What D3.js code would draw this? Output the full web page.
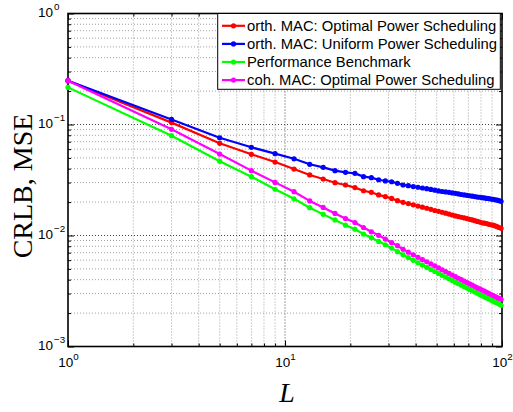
<!DOCTYPE html>
<html>
<head>
<meta charset="utf-8">
<script src="https://cdn.jsdelivr.net/npm/d3@7"></script>
<style>
  html, body { margin: 0; padding: 0; background: #fff; }
  svg { display: block; }
</style>
</head>
<body>
<svg id="chart" width="513" height="412"></svg>
<script>
// Number of sensors L (odd values only)
const L = [1, 3, 5, 7, 9, 11, 13, 15, 17, 19, 21, 23, 25, 27, 29, 31, 33, 35, 37, 39,
           41, 43, 45, 47, 49, 51, 53, 55, 57, 59, 61, 63, 65, 67, 69, 71, 73, 75, 77, 79,
           81, 83, 85, 87, 89, 91, 93, 95, 97, 99];

// orth. MAC, optimal power scheduling
const orthOptimal = [0.248, 0.104, 0.0677, 0.0539, 0.0459, 0.0397, 0.0351, 0.0323, 0.0299, 0.0285,
  0.0270, 0.0253, 0.0245, 0.0232, 0.0224, 0.0216, 0.0206, 0.0199, 0.0194, 0.0189,
  0.0184, 0.0180, 0.0176, 0.0172, 0.0168, 0.0165, 0.0162, 0.0159, 0.0156, 0.0153,
  0.0150, 0.0148, 0.0146, 0.0144, 0.0142, 0.0140, 0.0138, 0.0136, 0.0134, 0.0132,
  0.0130, 0.0129, 0.0128, 0.0126, 0.0125, 0.0124, 0.0122, 0.0120, 0.0118, 0.0116];

// orth. MAC, uniform power scheduling
const orthUniform = [0.248, 0.111, 0.0760, 0.0623, 0.0546, 0.0491, 0.0438, 0.0411, 0.0384, 0.0371,
  0.0363, 0.0339, 0.0332, 0.0318, 0.0310, 0.0305, 0.0295, 0.0285, 0.0281, 0.0276,
  0.0272, 0.0268, 0.0264, 0.0260, 0.0256, 0.0252, 0.0249, 0.0247, 0.0245, 0.0242,
  0.0240, 0.0237, 0.0234, 0.0232, 0.0230, 0.0228, 0.0226, 0.0224, 0.0222, 0.0221,
  0.0219, 0.0218, 0.0216, 0.0215, 0.0213, 0.0212, 0.0210, 0.0208, 0.0206, 0.0203];

// performance benchmark
const benchmark = [0.216, 0.0793, 0.0466, 0.0339, 0.0261, 0.0214, 0.0178, 0.0155, 0.0138, 0.0124,
  0.0114, 0.0103, 0.00955, 0.00885, 0.00825, 0.00770, 0.00715, 0.00670, 0.00632, 0.00598,
  0.00568, 0.00541, 0.00517, 0.00494, 0.00474, 0.00455, 0.00438, 0.00422, 0.00407, 0.00393,
  0.00380, 0.00368, 0.00357, 0.00346, 0.00336, 0.00327, 0.00318, 0.00310, 0.00302, 0.00294,
  0.00287, 0.00280, 0.00274, 0.00268, 0.00262, 0.00256, 0.00251, 0.00246, 0.00241, 0.00235];

// coh. MAC, optimal power scheduling
const cohOptimal = [0.248, 0.0905, 0.0542, 0.0384, 0.0301, 0.0248, 0.0205, 0.0179, 0.0158, 0.0142,
  0.0131, 0.0118, 0.0108, 0.01004, 0.00929, 0.00861, 0.00809, 0.00750, 0.00708, 0.00670,
  0.00636, 0.00606, 0.00580, 0.00555, 0.00532, 0.00510, 0.00491, 0.00473, 0.00456, 0.00440,
  0.00426, 0.00412, 0.00400, 0.00388, 0.00377, 0.00366, 0.00357, 0.00347, 0.00338, 0.00330,
  0.00323, 0.00315, 0.00308, 0.00301, 0.00294, 0.00288, 0.00282, 0.00276, 0.00271, 0.00266];

const seriesNames = [
  "orth. MAC: Optimal Power Scheduling",
  "orth. MAC: Uniform Power Scheduling",
  "Performance Benchmark",
  "coh. MAC: Optimal Power Scheduling"
];
const seriesValues = [orthOptimal, orthUniform, benchmark, cohOptimal];
const seriesColors = ["#ff0000", "#0000ff", "#00ff00", "#ff00ff"];

const xMajor = [1, 10, 100];
const xMajorExp = ["0", "1", "2"];
const yMajor = [1e-3, 1e-2, 1e-1, 1];
const yMajorExp = ["\u22123", "\u22122", "\u22121", "0"];

// ---- layout ----
const pLeft = 68, pRight = 502, pTop = 13.5, pBottom = 346.5;
const svg = d3.select("#chart");
svg.append("rect").attr("width", 513).attr("height", 412).attr("fill", "#fff");

const x = d3.scaleLog().domain([1, 100]).range([pLeft, pRight]);
const y = d3.scaleLog().domain([1e-3, 1]).range([pBottom, pTop]);

// minor tick positions (2..9 within each decade)
const xMinor = [];
for (let d = 1; d < 100; d *= 10) for (let k = 2; k <= 9; k++) xMinor.push(d * k);
const yMinor = [];
for (const d of [1e-3, 1e-2, 1e-1]) for (let k = 2; k <= 9; k++) yMinor.push(d * k);

// ---- grid ----
const grid = svg.append("g");
grid.selectAll("line.xmin").data(xMinor).join("line")
  .attr("x1", d => x(d)).attr("x2", d => x(d)).attr("y1", pTop).attr("y2", pBottom)
  .attr("stroke", "#a0a0a0").attr("stroke-width", 1).attr("stroke-dasharray", "1,2");
grid.selectAll("line.ymin").data(yMinor).join("line")
  .attr("y1", d => y(d)).attr("y2", d => y(d)).attr("x1", pLeft).attr("x2", pRight)
  .attr("stroke", "#a0a0a0").attr("stroke-width", 1).attr("stroke-dasharray", "1,2");
grid.selectAll("line.xmaj").data(xMajor.slice(1, -1)).join("line")
  .attr("x1", d => x(d)).attr("x2", d => x(d)).attr("y1", pTop).attr("y2", pBottom)
  .attr("stroke", "#444").attr("stroke-width", 1).attr("stroke-dasharray", "1,2");
grid.selectAll("line.ymaj").data(yMajor.slice(1, -1)).join("line")
  .attr("y1", d => y(d)).attr("y2", d => y(d)).attr("x1", pLeft).attr("x2", pRight)
  .attr("stroke", "#444").attr("stroke-width", 1).attr("stroke-dasharray", "1,2");

// ---- axes (ticks pointing inwards on all four sides) ----
function tickAxis(axisFn, scale, values, size, transform) {
  const g = svg.append("g").attr("transform", transform)
    .call(axisFn(scale).tickValues(values).tickSize(size).tickFormat(""));
  g.select(".domain").remove();
  g.selectAll(".tick line").attr("stroke", "#000").attr("stroke-width", 1);
  return g;
}
tickAxis(d3.axisBottom, x, xMajor, -6, `translate(0,${pBottom})`);
tickAxis(d3.axisBottom, x, xMinor, -3, `translate(0,${pBottom})`);
tickAxis(d3.axisTop, x, xMajor, -6, `translate(0,${pTop})`);
tickAxis(d3.axisTop, x, xMinor, -3, `translate(0,${pTop})`);
tickAxis(d3.axisLeft, y, yMajor, -6, `translate(${pLeft},0)`);
tickAxis(d3.axisLeft, y, yMinor, -3, `translate(${pLeft},0)`);
tickAxis(d3.axisRight, y, yMajor, -6, `translate(${pRight},0)`);
tickAxis(d3.axisRight, y, yMinor, -3, `translate(${pRight},0)`);

// frame
svg.append("rect").attr("x", pLeft).attr("y", pTop)
  .attr("width", pRight - pLeft).attr("height", pBottom - pTop)
  .attr("fill", "none").attr("stroke", "#000").attr("stroke-width", 1.6);

// ---- tick labels: 10 with superscript exponent ----
const tickFont = "Liberation Sans, Arial, Helvetica, sans-serif";
xMajor.forEach((v, i) => {
  const t = svg.append("text").attr("x", x(v) + 0.5).attr("y", pBottom + 20.5)
    .attr("text-anchor", "middle").attr("font-family", tickFont).attr("font-size", 13.5).attr("fill", "#000");
  t.append("tspan").text("10");
  t.append("tspan").attr("dy", -7).attr("font-size", 9.8).text(xMajorExp[i]);
});
yMajor.forEach((v, i) => {
  const t = svg.append("text").attr("x", 38).attr("y", y(v) + 3.5)
    .attr("text-anchor", "start").attr("font-family", tickFont).attr("font-size", 13.5).attr("fill", "#000");
  t.append("tspan").text("10");
  t.append("tspan").attr("dx", 1).attr("dy", -7).attr("font-size", 9.8).text(yMajorExp[i]);
});

// ---- axis titles ----
svg.append("text").attr("x", 287).attr("y", 401.5).attr("text-anchor", "middle")
  .attr("font-family", "Liberation Serif, Times New Roman, serif").attr("font-style", "italic")
  .attr("font-size", 28).text("L");
svg.append("text").attr("transform", "translate(32,186) rotate(-90)").attr("text-anchor", "middle")
  .attr("font-family", "Liberation Serif, Times New Roman, serif")
  .attr("font-size", 28).text("CRLB, MSE");

// ---- data series ----
const line = d3.line().x(d => x(d[0])).y(d => y(d[1]));
const plot = svg.append("g");
seriesValues.forEach((vals, s) => {
  const pts = L.map((l, i) => [l, vals[i]]);
  const g = plot.append("g");
  g.append("path").datum(pts).attr("d", line)
    .attr("fill", "none").attr("stroke", seriesColors[s]).attr("stroke-width", 2.2)
    .attr("stroke-linejoin", "round");
  g.selectAll("circle").data(pts).join("circle")
    .attr("cx", d => x(d[0])).attr("cy", d => y(d[1])).attr("r", 2.6)
    .attr("fill", seriesColors[s]);
});

// ---- legend ----
const lg = svg.append("g");
lg.append("rect").attr("x", 217.7).attr("y", 13.5).attr("width", 282.6).attr("height", 75.8)
  .attr("fill", "#fff").attr("stroke", "#000").attr("stroke-width", 1);
seriesNames.forEach((name, i) => {
  const cy = 25.8 + i * 18.1;
  lg.append("line").attr("x1", 222).attr("x2", 245).attr("y1", cy).attr("y2", cy)
    .attr("stroke", seriesColors[i]).attr("stroke-width", 2.2);
  lg.append("circle").attr("cx", 233.5).attr("cy", cy).attr("r", 2.6).attr("fill", seriesColors[i]);
  lg.append("text").attr("x", 247).attr("y", cy + 5.2)
    .attr("font-family", tickFont).attr("font-size", 14.8).attr("fill", "#000").text(name);
});
</script>
</body>
</html>
